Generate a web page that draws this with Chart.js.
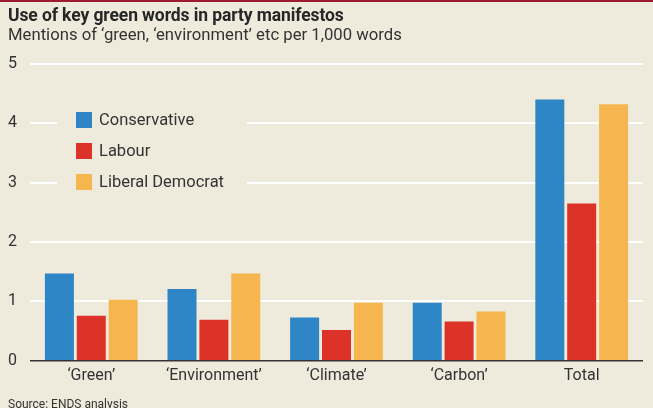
<!DOCTYPE html>
<html>
<head>
<meta charset="utf-8">
<script src="https://cdn.jsdelivr.net/npm/chart.js@4.4.0/dist/chart.umd.min.js"></script>
<style>
  html, body { margin: 0; padding: 0; background: #eeebdd; }
  #wrap { position: relative; width: 653px; height: 408px; overflow: hidden; background: #eeebdd; border-top: 2px solid #9e1b32; box-sizing: border-box; font-family: Roboto, "Liberation Sans", sans-serif; color: #262626; }
  #title { position: absolute; left: 8px; top: 3px; font-size: 17.5px; font-weight: 700; letter-spacing: -0.1px; }
  #sub { position: absolute; left: 8px; top: 23px; font-size: 16.7px; color: #333; }
  #src { position: absolute; left: 8px; top: 395px; font-size: 12px; color: #333; }
  #cv { position: absolute; left: 0; top: 0; }
</style>
</head>
<body>
<div id="wrap">
  <canvas id="cv" width="653" height="408"></canvas>
  <div id="title">Use of key green words in party manifestos</div>
  <div id="sub">Mentions of ‘green, ‘environment’ etc per 1,000 words</div>
  <div id="src">Source: ENDS analysis</div>
</div>
<script>
const categories = ['‘Green’', '‘Environment’', '‘Climate’', '‘Carbon’', 'Total'];
const conservative = [1.47, 1.21, 0.73, 0.98, 4.40];
const labour = [0.76, 0.69, 0.52, 0.66, 2.65];
const libDem = [1.03, 1.47, 0.98, 0.83, 4.32];
const yTicks = [0, 1, 2, 3, 4, 5];

const BLUE = '#2e86c6';
const RED = '#dd3228';
const YELLOW = '#f6b64f';
const BG = '#eeebdd';
const INK = '#333333';
const FONT = 'Roboto, "Liberation Sans", sans-serif';

// legend drawn inside the plot, on a background patch that hides the gridlines
const insideLegend = {
  id: 'insideLegend',
  beforeDatasetsDraw(chart) {
    const ctx = chart.ctx;
    ctx.save();
    ctx.fillStyle = BG;
    ctx.fillRect(57, 100, 190, 100);
    ctx.font = '16.5px ' + FONT;
    ctx.textBaseline = 'middle';
    chart.data.datasets.forEach((ds, i) => {
      const y = 118 + i * 31;
      ctx.fillStyle = ds.backgroundColor;
      ctx.fillRect(76, y - 8, 16, 16);
      ctx.fillStyle = INK;
      ctx.fillText(ds.label, 99, y + 1);
    });
    ctx.restore();
  }
};

new Chart(document.getElementById('cv'), {
  type: 'bar',
  data: {
    labels: categories,
    datasets: [
      { label: 'Conservative', data: conservative, backgroundColor: BLUE },
      { label: 'Labour', data: labour, backgroundColor: RED },
      { label: 'Liberal Democrat', data: libDem, backgroundColor: YELLOW }
    ]
  },
  options: {
    responsive: false,
    animation: false,
    layout: { padding: { left: 8, right: 10, top: 62, bottom: 18 } },
    datasets: { bar: { categoryPercentage: 0.78, barPercentage: 0.91 } },
    plugins: {
      legend: { display: false },
      tooltip: { enabled: false }
    },
    scales: {
      x: {
        grid: { display: false, tickLength: 0 },
        border: { display: false },
        ticks: { color: INK, font: { family: FONT, size: 16 }, padding: 6 }
      },
      y: {
        min: 0,
        max: 5,
        afterBuildTicks: (axis) => { axis.ticks = yTicks.map(v => ({ value: v })); },
        border: { display: false },
        grid: {
          drawTicks: false,
          color: (c) => (c.tick && c.tick.value === 0 ? '#333' : '#ffffff'),
          lineWidth: (c) => (c.tick && c.tick.value === 0 ? 1.5 : 2)
        },
        ticks: { color: INK, font: { family: FONT, size: 16 }, padding: 6.5, crossAlign: 'far' }
      }
    }
  },
  plugins: [insideLegend]
});
</script>
</body>
</html>
